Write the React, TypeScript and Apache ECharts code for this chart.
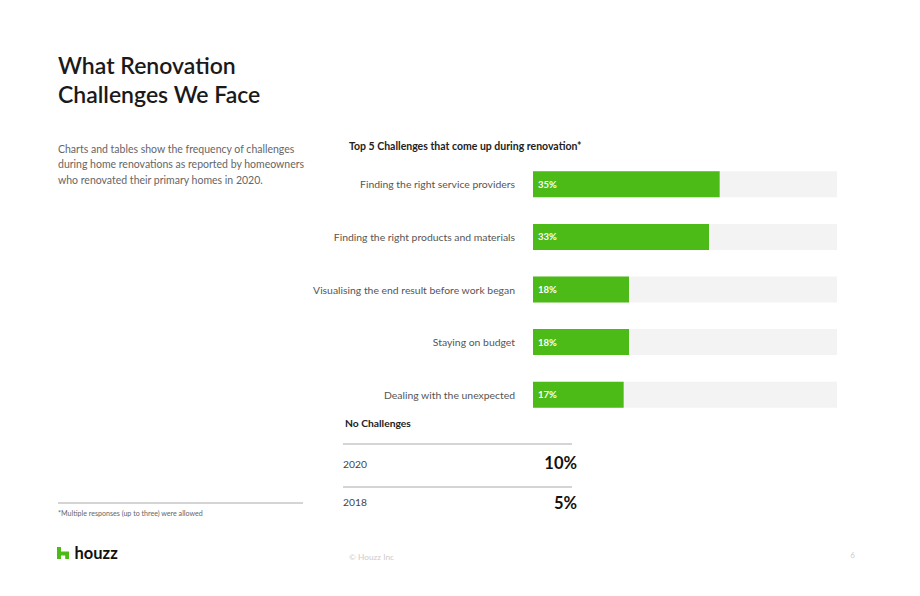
import React, { useEffect, useRef } from "react";
import * as echarts from "echarts";

const categories = [
  "Finding the right service providers",
  "Finding the right products and materials",
  "Visualising the end result before work began",
  "Staying on budget",
  "Dealing with the unexpected",
];
const values = [35, 33, 18, 18, 17];
const axisMax = 57;

const noChallengeYears = ["2020", "2018"];
const noChallengeValues = [10, 5];

const titleLines = ["What Renovation", "Challenges We Face"];
const descLines = [
  "Charts and tables show the frequency of challenges",
  "during home renovations as reported by homeowners",
  "who renovated their primary homes in 2020.",
];

const FONT = "Lato, 'Open Sans', sans-serif";
const GREEN = "#4cbb17";

export default function App() {
  const ref = useRef<HTMLDivElement>(null);
  useEffect(() => {
    if (!ref.current) return;
    const chart = echarts.init(ref.current, null, { renderer: "svg" });

    const graphics: any[] = [];
    titleLines.forEach((t, i) => {
      graphics.push({
        type: "text",
        left: 58,
        top: 53 + i * 29,
        style: { text: t, fill: "#1a1a1a", font: `600 23px ${FONT}` },
      });
    });
    descLines.forEach((t, i) => {
      graphics.push({
        type: "text",
        left: 58,
        top: 143 + i * 15.5,
        style: { text: t, fill: "#666", font: `400 10.5px ${FONT}` },
      });
    });
    graphics.push({
      type: "text",
      left: 349,
      top: 140,
      style: {
        text: "Top 5 Challenges that come up during renovation*",
        fill: "#222",
        font: `700 10.5px ${FONT}`,
      },
    });
    graphics.push({
      type: "text",
      left: 345,
      top: 418,
      style: { text: "No Challenges", fill: "#222", font: `700 10.3px ${FONT}` },
    });
    const rowTops = [444, 487];
    noChallengeYears.forEach((y, i) => {
      graphics.push({
        type: "line",
        shape: { x1: 343, y1: rowTops[i], x2: 572, y2: rowTops[i] },
        style: { stroke: "#aaa", lineWidth: 1 },
      });
      graphics.push({
        type: "text",
        x: 343,
        y: rowTops[i] + 20 - i * 5,
        style: { text: y, fill: "#444", font: `400 10.3px ${FONT}`, verticalAlign: "middle" },
      });
      graphics.push({
        type: "text",
        x: 577,
        y: rowTops[i] + 19 - i * 3,
        style: {
          text: noChallengeValues[i] + "%",
          fill: "#111",
          font: `700 16.5px ${FONT}`,
          align: "right",
          verticalAlign: "middle",
        },
      });
    });
    graphics.push({
      type: "line",
      shape: { x1: 58, y1: 503, x2: 303, y2: 503 },
      style: { stroke: "#aaa", lineWidth: 1 },
    });
    graphics.push({
      type: "text",
      left: 58,
      top: 510,
      style: {
        text: "*Multiple responses (up to three) were allowed",
        fill: "#666",
        font: `400 7.1px ${FONT}`,
      },
    });
    graphics.push({
      type: "polygon",
      x: 57,
      y: 547,
      shape: {
        points: [
          [0, 0], [4, 0], [4, 4.5], [12, 4.5], [12, 12], [8.2, 12],
          [8.2, 8.5], [4, 8.5], [4, 12], [0, 12],
        ],
      },
      style: { fill: GREEN },
    });
    graphics.push({
      type: "text",
      x: 74.5,
      y: 553,
      style: {
        text: "houzz",
        fill: "#111",
        font: `700 16.5px ${FONT}`,
        verticalAlign: "middle",
      },
    });
    graphics.push({
      type: "text",
      x: 349,
      y: 557,
      style: { text: "© Houzz Inc", fill: "#ccc", font: `400 8.3px ${FONT}`, verticalAlign: "middle" },
    });
    graphics.push({
      type: "text",
      x: 855,
      y: 555,
      style: { text: "6", fill: "#ccc", font: `400 8px ${FONT}`, align: "right", verticalAlign: "middle" },
    });

    chart.setOption({
      animation: false,
      backgroundColor: "#fff",
      grid: { left: 533, right: 83, top: 158, height: 263, containLabel: false },
      xAxis: {
        type: "value",
        min: 0,
        max: axisMax,
        show: false,
      },
      yAxis: {
        type: "category",
        data: categories,
        inverse: true,
        axisLine: { show: false },
        axisTick: { show: false },
        splitLine: { show: false },
        axisLabel: {
          margin: 18,
          fontSize: 10.4,
          fontFamily: FONT,
          color: "#555",
        },
      },
      series: [
        {
          type: "bar",
          data: values,
          barWidth: 26,
          showBackground: true,
          backgroundStyle: { color: "#f3f3f3" },
          itemStyle: { color: GREEN },
          label: {
            show: true,
            position: "insideLeft",
            distance: 5,
            formatter: "{c}%",
            color: "#fff",
            fontWeight: "bold",
            fontSize: 9.5,
            fontFamily: FONT,
          },
        },
      ],
      graphic: { elements: graphics },
    });
    return () => chart.dispose();
  }, []);
  return (
    <div
      ref={ref}
      style={{ position: "fixed", left: 0, top: 0, width: 920, height: 596 }}
    />
  );
}
